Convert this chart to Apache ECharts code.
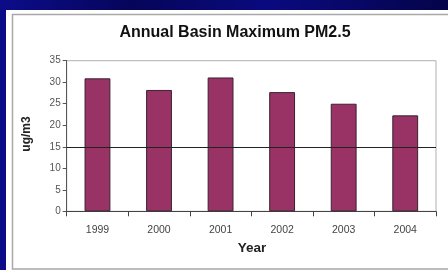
<!DOCTYPE html>
<html><head><meta charset="utf-8">
<script src="https://cdn.jsdelivr.net/npm/echarts@6/dist/echarts.min.js"></script>
<style>html,body{margin:0;padding:0;background:#06064a;}#c{width:448px;height:270px;}</style>
</head><body><div id="c"></div>
<script>
var years = ['1999','2000','2001','2002','2003','2004'];
var pm25 = [30.9, 28.2, 31.1, 27.7, 25.0, 22.3];
var standard = 15;
var yTicks = [0,5,10,15,20,25,30,35];

var chart = echarts.init(document.getElementById('c'), null, {renderer:'canvas'});
chart.setOption({
  animation:false,
  backgroundColor: {type:'linear',x:0,y:0,x2:1,y2:0,colorStops:[{offset:0,color:'#0c0c8a'},{offset:0.3,color:'#05055a'},{offset:0.6,color:'#0a0a80'},{offset:1,color:'#04044a'}]},
  graphic:[
    {type:'rect',z:-10,shape:{x:6,y:10,width:442,height:260},style:{fill:'#ffffff'}},
    {type:'rect',z:-9,shape:{x:12.5,y:14.5,width:440,height:254.5},style:{fill:'#ffffff',stroke:'#a8a8a8',lineWidth:1.5}},
    {type:'text',style:{text:'Annual Basin Maximum PM2.5',x:235,y:33,textAlign:'center',textVerticalAlign:'middle',font:'bold 16px Arial, "Liberation Sans", sans-serif',fill:'#111'}},
    {type:'text',style:{text:'Year',x:252,y:248,textAlign:'center',textVerticalAlign:'middle',font:'bold 13.5px Arial, "Liberation Sans", sans-serif',fill:'#222'}},
    {type:'text',rotation:Math.PI/2,x:27,y:134,style:{text:'ug/m3',textAlign:'center',textVerticalAlign:'middle',font:'bold 12px Arial, "Liberation Sans", sans-serif',fill:'#222'}}
  ],
  grid:{left:66.7,right:12,top:60.7,bottom:58.7,show:true,borderColor:'#b0b0b0',borderWidth:1,backgroundColor:'transparent'},
  xAxis:{type:'category',data:years,
    axisLine:{lineStyle:{color:'#444',width:1}},
    axisTick:{show:true,length:5,inside:false,lineStyle:{color:'#444'}},
    axisLabel:{color:'#444',fontSize:10.5,fontFamily:'Arial, "Liberation Sans", sans-serif',margin:13}},
  yAxis:{type:'value',min:0,max:35,interval:5,
    axisLine:{show:true,lineStyle:{color:'#555',width:1}},
    axisTick:{show:true,length:4,lineStyle:{color:'#555'}},
    splitLine:{show:false},
    axisLabel:{color:'#555',fontSize:10,fontFamily:'Arial, "Liberation Sans", sans-serif',margin:6,
      formatter:function(v){return yTicks.indexOf(v)>=0?String(v):'';}}},
  series:[{type:'bar',data:pm25,barWidth:'42%',
    itemStyle:{color:'#993366',borderColor:'#3a2230',borderWidth:1},
    markLine:{silent:true,symbol:'none',label:{show:false},
      lineStyle:{color:'#222',width:1.2,type:'solid'},
      data:[{yAxis:standard}]}}]
});
</script></body></html>
